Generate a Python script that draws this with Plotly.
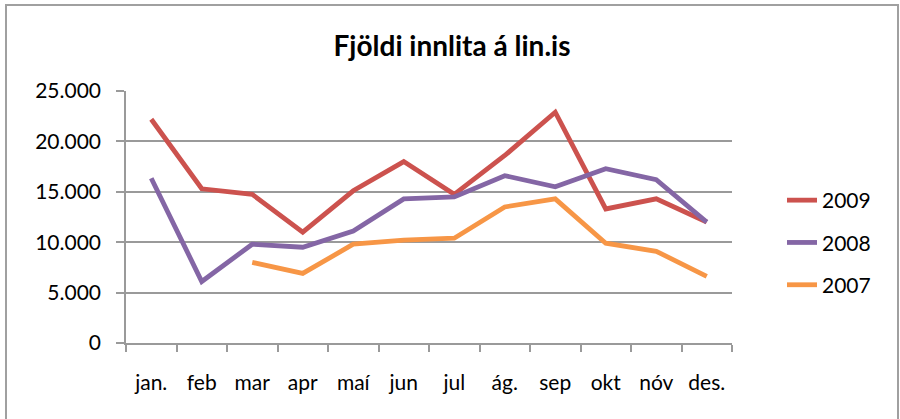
import plotly.graph_objects as go

months = ["jan.", "feb", "mar", "apr", "maí", "jun", "jul", "ág.", "sep", "okt", "nóv", "des."]
y2009 = [22200, 15300, 14750, 11000, 15100, 18000, 14750, 18600, 22900, 13300, 14300, 12000]
y2008 = [16350, 6100, 9800, 9500, 11100, 14300, 14500, 16600, 15500, 17300, 16200, 12000]
y2007 = [None, None, 8000, 6900, 9800, 10200, 10400, 13500, 14300, 9900, 9100, 6600]
y_ticks = [0, 5000, 10000, 15000, 20000, 25000]
y_labels = ["0", "5.000", "10.000", "15.000", "20.000", "25.000"]

W, H = 900, 419
ML, MT = 126, 91
pw, ph = 606, 252
MR, MB = W - ML - pw, H - MT - ph

fig = go.Figure()
for name, ys, col in [("2009", y2009, "#CC524E"), ("2008", y2008, "#8466A5"), ("2007", y2007, "#F79646")]:
    fig.add_trace(go.Scatter(x=months, y=ys, mode="lines", name=name, legendgroup=name,
                             line=dict(color=col, width=4.8), connectgaps=False))

grid = "#9a9a9a"

def px_x(p):
    return (p - ML) / pw

def px_y(p):
    return (H - MB - p) / ph

fig.add_shape(type="rect", xref="paper", yref="paper",
              x0=px_x(6), x1=px_x(898), y0=px_y(440), y1=px_y(5),
              line=dict(color="#a0a0a0", width=2), fillcolor="rgba(0,0,0,0)", layer="below")

fig.update_layout(
    width=W, height=H,
    margin=dict(l=ML, r=MR, t=MT, b=MB),
    paper_bgcolor="white", plot_bgcolor="white",
    font=dict(family="Lato", size=21, color="black"),
    title=dict(text="<b>Fjöldi innlita á lin.is</b>", x=452 / W, xanchor="center",
               y=1 - 46 / H, yanchor="middle", font=dict(size=28, family="Lato", color="black")),
    showlegend=True,
    legend=dict(x=px_x(782), xanchor="left", y=px_y(180), yanchor="top",
                tracegroupgap=12, font=dict(size=21), bgcolor="rgba(0,0,0,0)"),
    xaxis=dict(type="category", showgrid=False, showline=True, linecolor=grid, linewidth=1.5,
               ticks="outside", tickson="boundaries", ticklen=7, tickcolor=grid, tickwidth=1.5,
               ticklabelstandoff=20, range=[-0.5, 11.5]),
    yaxis=dict(range=[0, 25000], tickvals=y_ticks, ticktext=y_labels, showgrid=True,
               gridcolor=grid, gridwidth=1.5, showline=True, linecolor=grid, linewidth=1.5,
               ticks="outside", ticklen=8, tickcolor=grid, tickwidth=1.5,
               ticklabelstandoff=11, zeroline=False),
)

fig.write_html("out.html", config={"displayModeBar": False},
               post_script="document.body.style.margin='0';")
